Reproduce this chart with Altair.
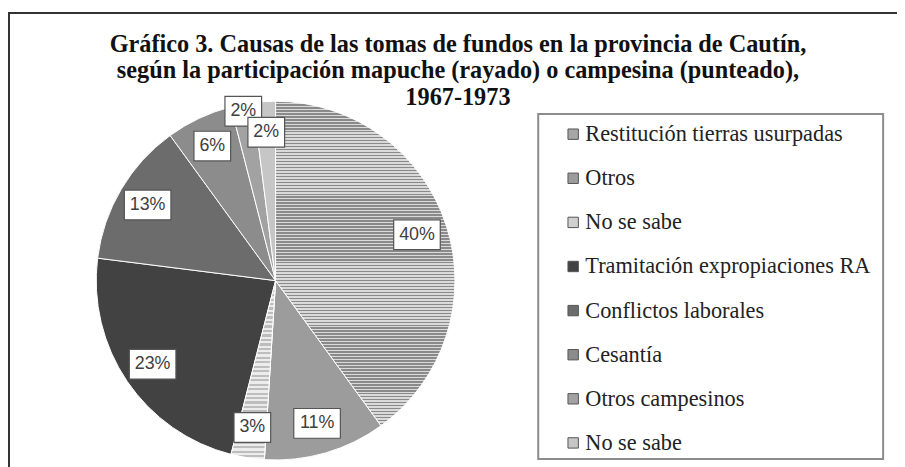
import math
import altair as alt
import pandas as pd

# ---- data ----
causes = [
    "Restitución tierras usurpadas",
    "Otros",
    "No se sabe",
    "Tramitación expropiaciones RA",
    "Conflictos laborales",
    "Cesantía",
    "Otros campesinos",
    "No se sabe",
]
percent = [40, 11, 3, 23, 13, 6, 2, 2]
colors = ["#a6a6a6", "#9c9c9c", "#d0d0d0", "#424242", "#6c6c6c", "#8c8c8c", "#a2a2a2", "#c6c6c6"]
title_lines = [
    "Gráfico 3. Causas de las tomas de fundos en la provincia de Cautín,",
    "según la participación mapuche (rayado) o campesina (punteado),",
    "1967-1973",
]

keys = [f"{i}|{c}" for i, c in enumerate(causes)]
df = pd.DataFrame({"i": list(range(len(causes))), "key": keys, "cause": causes, "pct": percent})
one = pd.DataFrame({"d": [0]})

CX, CY, R = 270, 273, 181


def stripes(n, c1, c2):
    stops = []
    for j in range(n):
        a, b, c = j / n, (j + 0.5) / n, (j + 1) / n
        stops += [
            alt.GradientStop(offset=a, color=c1),
            alt.GradientStop(offset=b, color=c1),
            alt.GradientStop(offset=b, color=c2),
            alt.GradientStop(offset=c, color=c2),
        ]
    return alt.LinearGradient(gradient="linear", stops=stops, x1=0, x2=0, y1=0, y2=1)


base = alt.Chart(df).transform_window(
    end="sum(pct)", sort=[alt.SortField("i")], frame=[None, 0]
).transform_calculate(
    start="datum.end - datum.pct",
    mid="datum.end - datum.pct / 2",
    label="datum.pct + '%'",
)

theta = alt.Theta("start:Q", stack=None, scale=alt.Scale(domain=[0, 100], range=[0, 2 * math.pi]))
theta2 = alt.Theta2("end:Q")

arcs = base.mark_arc(outerRadius=R, stroke="white", strokeWidth=1).encode(
    x=alt.value(CX),
    y=alt.value(CY),
    theta=theta,
    theta2=theta2,
    color=alt.Color(
        "key:N",
        scale=alt.Scale(domain=keys, range=colors),
        legend=alt.Legend(
            title=None,
            orient="none",
            legendX=559,
            legendY=114,
            labelExpr="split(datum.value, '|')[1]",
            symbolType="square",
            symbolSize=110,
            symbolStrokeColor="#555555",
            symbolStrokeWidth=1,
            symbolOpacity=1,
            labelFont="Liberation Serif",
            labelFontSize=22.5,
            labelColor="#222222",
            rowPadding=21.5,
            labelOffset=1,
            labelLimit=400,
            padding=0,
        ),
    ),
)

striped1 = base.transform_filter("datum.i == 0").mark_arc(
    outerRadius=R, fill=stripes(109, "#8a8a8a", "#dadada"), stroke="white", strokeWidth=1
).encode(x=alt.value(CX), y=alt.value(CY), theta=theta, theta2=theta2)

striped2 = base.transform_filter("datum.i == 2").mark_arc(
    outerRadius=R, fill=stripes(40, "#bdbdbd", "#ececec"), stroke="white", strokeWidth=1
).encode(x=alt.value(CX), y=alt.value(CY), theta=theta, theta2=theta2)

lab = base.transform_calculate(
    r="datum.i == 6 ? 174 : 150",
    ang="datum.mid / 100 * 2 * PI",
    lx=f"{CX} + datum.r * sin(datum.ang)",
    ly=f"{CY} - datum.r * cos(datum.ang)",
    bw="length(datum.label) > 2 ? 47 : 37",
    bx1="datum.lx - datum.bw / 2",
    bx2="datum.lx + datum.bw / 2",
    by1="datum.ly - 15",
    by2="datum.ly + 15",
)

boxes = lab.mark_rect(fill="white", stroke="#555555", strokeWidth=1.2).encode(
    x=alt.X("bx1:Q", scale=None, axis=None),
    x2="bx2:Q",
    y=alt.Y("by1:Q", scale=None, axis=None),
    y2="by2:Q",
)

texts = lab.mark_text(font="Liberation Sans", fontSize=18, color="#404040", baseline="middle").encode(
    x=alt.X("lx:Q", scale=None, axis=None),
    y=alt.Y("ly:Q", scale=None, axis=None),
    text="label:N",
)

title = alt.Chart(one).mark_text(
    text=title_lines,
    font="Liberation Serif",
    fontSize=24.5,
    fontWeight="bold",
    lineHeight=27,
    align="center",
    baseline="alphabetic",
    color="#111111",
).encode(x=alt.value(454), y=alt.value(42))

frame = alt.Chart(one).mark_rect(filled=False, stroke="#333333", strokeWidth=2).encode(
    x=alt.value(1), x2=alt.value(1200), y=alt.value(3), y2=alt.value(1200)
)

legend_box = alt.Chart(one).mark_rect(filled=False, stroke="#8c8c8c", strokeWidth=2).encode(
    x=alt.value(535), x2=alt.value(883), y=alt.value(105), y2=alt.value(453)
)

chart = alt.layer(frame, legend_box, title, arcs, striped1, striped2, boxes, texts).properties(
    width=897, height=459, autosize=alt.AutoSizeParams(type="none"), padding=0
).configure_view(stroke=None)

chart.save("out.html", embed_options={"renderer": "svg", "actions": False})
